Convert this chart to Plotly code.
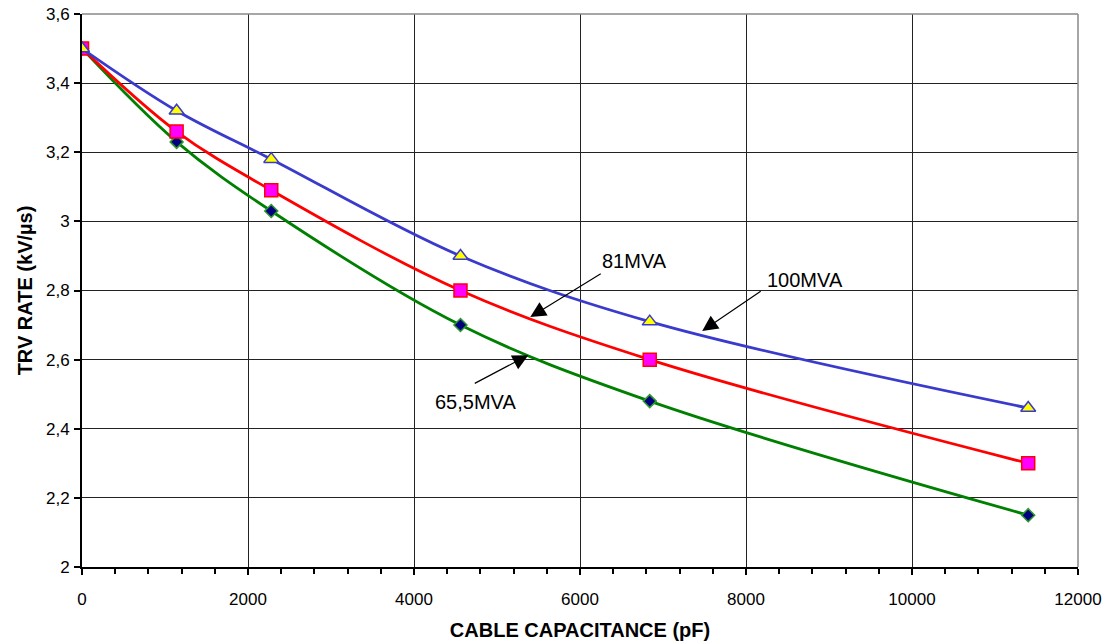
import plotly.graph_objects as go

capacitance_pf = [0, 1140, 2280, 4560, 6840, 11400]
trv_100mva = [3.50, 3.32, 3.18, 2.90, 2.71, 2.46]
trv_81mva = [3.50, 3.26, 3.09, 2.80, 2.60, 2.30]
trv_65mva = [3.50, 3.23, 3.03, 2.70, 2.48, 2.15]

x_tickvals = [0, 2000, 4000, 6000, 8000, 10000, 12000]
x_ticktext = ["0", "2000", "4000", "6000", "8000", "10000", "12000"]
y_tickvals = [2.0, 2.2, 2.4, 2.6, 2.8, 3.0, 3.2, 3.4, 3.6]
y_ticktext = ["2", "2,2", "2,4", "2,6", "2,8", "3", "3,2", "3,4", "3,6"]

FONT = "Liberation Sans, Arial, sans-serif"

fig = go.Figure()
fig.add_trace(go.Scatter(
    x=capacitance_pf, y=trv_65mva, mode="lines+markers", name="65,5MVA",
    line=dict(color="#008000", width=2.8, shape="spline"),
    marker=dict(symbol="diamond", size=10, color="#000080",
                line=dict(color="#2e9a2e", width=1.5))))
fig.add_trace(go.Scatter(
    x=capacitance_pf, y=trv_81mva, mode="lines+markers", name="81MVA",
    line=dict(color="#ff0000", width=2.8, shape="spline"),
    marker=dict(symbol="square", size=13, color="#ff00ff",
                line=dict(color="#ff0000", width=1.5))))
fig.add_trace(go.Scatter(
    x=capacitance_pf, y=trv_100mva, mode="lines+markers", name="100MVA",
    line=dict(color="#3a3acc", width=2.8, shape="spline"),
    marker=dict(symbol="triangle-up", size=13, color="#ffff00",
                line=dict(color="#3a3acc", width=1.5))))

# arrows (head at x,y; tail at ax,ay in data coords)
arrows = [
    (5401, 2.723, 6268, 2.851),
    (7472, 2.683, 8195, 2.801),
    (5377, 2.613, 4714, 2.529),
]
for hx, hy, tx, ty in arrows:
    fig.add_annotation(x=hx, y=hy, ax=tx, ay=ty, axref="x", ayref="y",
                       xref="x", yref="y", text="", showarrow=True,
                       arrowhead=2, arrowsize=2.6, arrowwidth=1.2,
                       arrowcolor="black")

labels = [("81MVA", 6652, 2.885), ("100MVA", 8712, 2.830), ("65,5MVA", 4737, 2.477)]
for txt, lx, ly in labels:
    fig.add_annotation(x=lx, y=ly, xref="x", yref="y", text=txt, showarrow=False,
                       font=dict(family=FONT, size=20, color="black"))

# gray top/right frame
fig.add_shape(type="line", xref="paper", yref="paper", x0=0, x1=1, y0=1, y1=1,
              line=dict(color="#888888", width=1.5))
fig.add_shape(type="line", xref="paper", yref="paper", x0=1, x1=1, y0=0, y1=1,
              line=dict(color="#888888", width=1.5))

fig.update_layout(
    width=1102, height=641,
    margin=dict(l=81.5, r=24, t=14, b=74, autoexpand=False),
    paper_bgcolor="white", plot_bgcolor="white",
    showlegend=False,
    font=dict(family=FONT, size=17, color="black"),
    xaxis=dict(
        range=[0, 12000], tickvals=x_tickvals, ticktext=x_ticktext,
        showgrid=True, gridcolor="#222222", gridwidth=1,
        showline=True, linecolor="black", linewidth=2,
        ticks="outside", ticklen=6, tickcolor="black", tickwidth=1.5,
        ticklabelstandoff=10, zeroline=False, automargin=False,
        ticklabeloverflow="allow",
        minor=dict(dtick=400, tick0=0, ticks="outside", ticklen=5,
                   tickcolor="black", tickwidth=1.5, showgrid=False),
        title=dict(text="<b>CABLE CAPACITANCE (pF)</b>", standoff=15,
                   font=dict(family=FONT, size=20)),
        tickfont=dict(family=FONT, size=17),
    ),
    yaxis=dict(
        range=[2, 3.6], tickvals=y_tickvals, ticktext=y_ticktext,
        showgrid=True, gridcolor="#222222", gridwidth=1,
        showline=True, linecolor="black", linewidth=2,
        ticks="outside", ticklen=6, tickcolor="black", tickwidth=1.5,
        ticklabelstandoff=1, zeroline=False, automargin=False,
        ticklabeloverflow="allow",
        title=dict(text="<b>TRV RATE (kV/µs)</b>", standoff=8,
                   font=dict(family=FONT, size=20)),
        tickfont=dict(family=FONT, size=17),
    ),
)

fig.write_html("out.html",
               config={"displayModeBar": False},
               post_script="document.body.style.margin='0';document.body.style.overflow='hidden';")
